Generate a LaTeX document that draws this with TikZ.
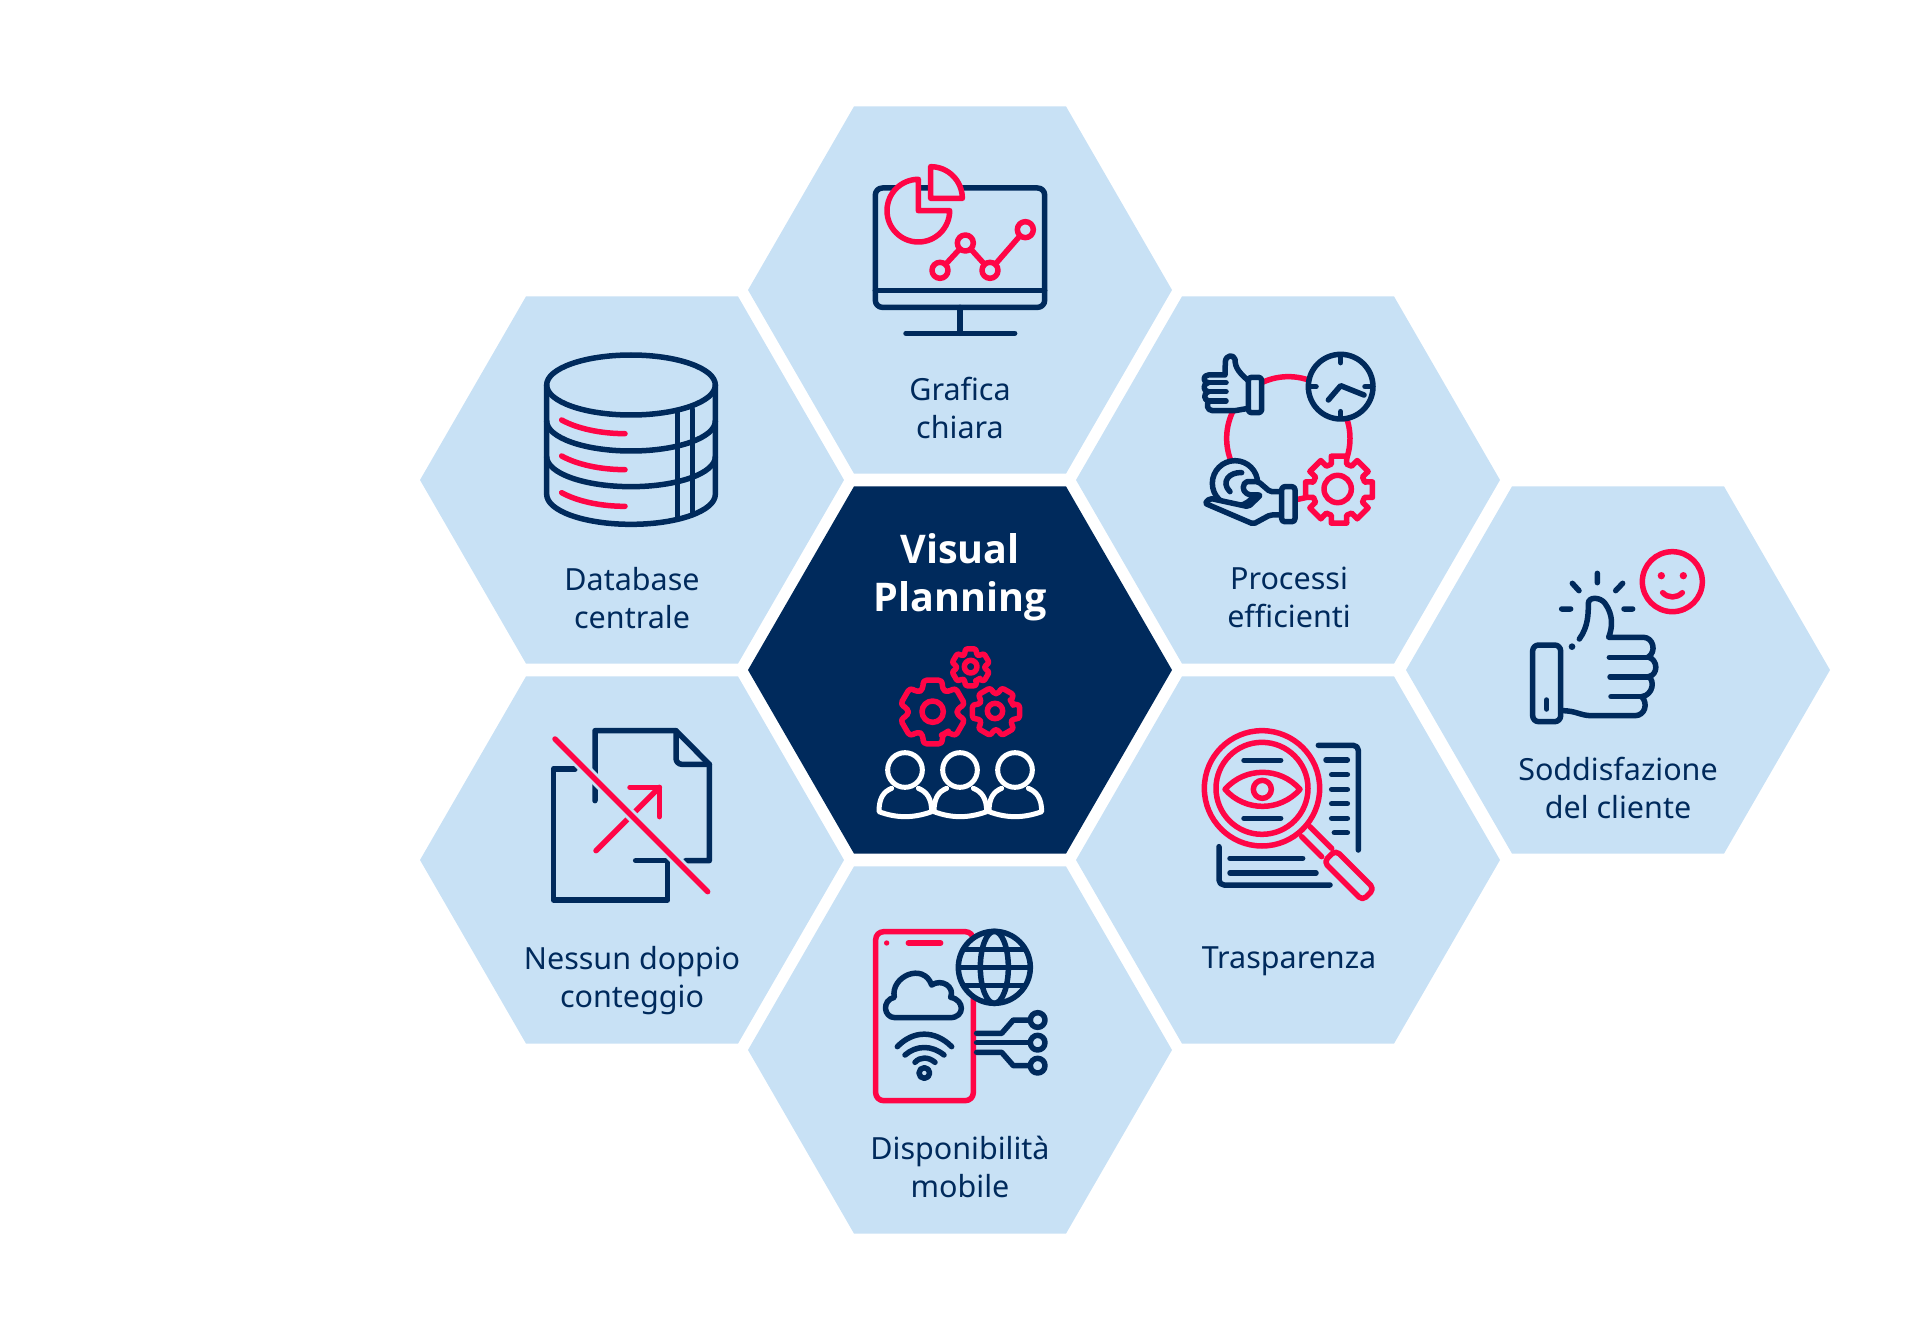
\documentclass[tikz,border=0pt]{standalone}
\usepackage{xcolor}
\usepackage{fontspec}
\setmainfont{Noto Sans}
\newfontfamily\titlefont{Open Sans}
\usepackage{tikz}
\usetikzlibrary{shapes.geometric}
\definecolor{hexcolor}{RGB}{200,225,245}
\definecolor{navycolor}{RGB}{0,42,92}
\definecolor{redcolor}{RGB}{255,5,70}

% cogwheel: x, y, teeth, tip radius, root radius, rotation, style
\newcommand{\cogwheel}[7]{%
  \begin{scope}[shift={(#1,#2)}]
    \pgfmathsetmacro{\cogtip}{0.29*360/#3}
    \pgfmathsetmacro{\cogroot}{0.37*360/#3}
    \draw[#7] ({#6-180/#3}:#5)
      \foreach \cogi [evaluate=\cogi as \coga using {#6+(\cogi-1)*360/#3}] in {1,...,#3}
        { -- ({\coga-\cogroot}:#5) -- ({\coga-\cogtip}:#4) -- ({\coga+\cogtip}:#4) -- ({\coga+\cogroot}:#5) }
      -- cycle;
  \end{scope}}

\begin{document}
\begin{tikzpicture}[
    x=1pt, y=-1pt,
    hexcell/.style={regular polygon, regular polygon sides=6, minimum size=424pt, inner sep=0pt, outer sep=0pt, fill=hexcolor},
    hexlabel/.style={anchor=north, align=center, text=navycolor, inner sep=0pt, font=\fontsize{30.5}{38}\selectfont},
    hextitle/.style={anchor=north, align=center, text=white, inner sep=0pt, font=\titlefont\fontsize{39.5}{48}\selectfont\bfseries},
    iconscale/.style={x=0.33333pt, y=-0.33333pt},
    navyline/.style={draw=navycolor, line width=5.5pt, line cap=round, line join=round},
    redline/.style={draw=redcolor, line width=5.5pt, line cap=round, line join=round},
    whiteline/.style={draw=white, line width=5pt, line cap=round, line join=round}
]
    \useasboundingbox (0,0) rectangle (1920,1340);

    % Hexagons
    \node[hexcell] (grafica) at (960,290) {};
    \node[hexcell] (database) at (632,480) {};
    \node[hexcell] (processi) at (1288,480) {};
    \node[hexcell, fill=navycolor] (visual) at (960,670) {};
    \node[hexcell] (cliente) at (1618,670) {};
    \node[hexcell] (doppio) at (632,860) {};
    \node[hexcell] (trasparenza) at (1288,860) {};
    \node[hexcell] (mobile) at (960,1050) {};

    % Labels
    \node[hexlabel] (lgrafica) at (960,377) {Grafica\\chiara};
    \node[hexlabel] (ldatabase) at (632,567) {Database\\centrale};
    \node[hexlabel] (lprocessi) at (1289,567) {Processi\\efficienti};
    \node[hextitle] (lvisual) at (960,533) {Visual\\Planning};
    \node[hexlabel] (lcliente) at (1618,757) {Soddisfazione\\del cliente};
    \node[hexlabel] (ldoppio) at (632,946) {Nessun doppio\\conteggio};
    \node[hexlabel] (ltrasparenza) at (1289,947) {Trasparenza};
    \node[hexlabel] (lmobile) at (960,1136) {Disponibilit\`a\\mobile};

    % Monitor icon
    \begin{scope}[shift={(740,90)}, iconscale]
        \draw[navyline, rounded corners=7pt] (406,294) rectangle (914,652);
        \draw[navyline] (406,601) -- (914,601);
        \draw[navyline] (660,652) -- (660,730);
        \draw[navyline] (498,730) -- (824,730);
        \draw[redline, fill=hexcolor] (535,268) arc[start angle=270, end angle=0, radius=94] -- (535,362) -- cycle;
        \draw[redline, fill=hexcolor] (572,230) arc[start angle=270, end angle=360, radius=95] -- (572,325) -- cycle;
        \draw[redline] (600,541) -- (676,459) -- (750,541) -- (856,419);
        \foreach \cx/\cy in {600/541, 676/459, 750/541, 856/419}
            \draw[redline, fill=hexcolor] (\cx,\cy) circle[radius=24];
    \end{scope}

    % Process icon
    \begin{scope}[shift={(1190,340)}, iconscale]
        \draw[redline] (295,295) circle[radius=185];
        % thumb
        \draw[navyline, fill=hexcolor] (175,122) .. controls (150,100) and (135,85) .. (135,58) .. controls (130,42) and (108,45) .. (106,65) -- (105,105) -- (55,105) .. controls (38,105) and (38,128) .. (55,128) .. controls (38,130) and (38,155) .. (55,155) .. controls (40,158) and (40,183) .. (58,183) .. controls (48,190) and (50,212) .. (68,212) -- (135,212) -- (175,205);
        \draw[navyline] (55,128) -- (108,128) (55,155) -- (108,155) (58,183) -- (108,183);
        \draw[navyline, fill=hexcolor, rounded corners=3pt] (175,112) rectangle (215,218);
        % clock
        \draw[navyline, fill=hexcolor] (452,140) circle[radius=97];
        \draw[navyline] (452,50) -- (452,68) (452,215) -- (452,233) (360,140) -- (378,140) (525,140) -- (545,140);
        \draw[navyline] (415,180) -- (452,137) -- (522,165);
        % gear
        \cogwheel{447}{449}{8}{103}{80}{0}{redline, fill=hexcolor}
        \draw[redline] (443,447) circle[radius=41];
        % coin and hand
        \draw[navyline, fill=hexcolor] (135,430) circle[radius=68];
        \draw[navyline] (155,398) .. controls (120,395) and (90,425) .. (120,455);
        \draw[navyline, fill=hexcolor, rounded corners=2pt] (275,525) -- (240,525) -- (190,552) -- (45,490) -- (60,475) -- (175,500) -- (212,465) -- (175,465) -- (158,448) -- (165,425) -- (205,425) -- (240,455) -- (275,455);
        \draw[navyline, fill=hexcolor, rounded corners=3pt] (275,440) rectangle (315,545);
    \end{scope}

    % Database icon
    \begin{scope}[shift={(530,340)}, iconscale]
        \draw[navyline] (303,135) ellipse[x radius=253, y radius=90];
        \draw[navyline] (50,135) -- (50,463) arc[start angle=180, end angle=0, x radius=253, y radius=90] -- (556,135);
        \draw[navyline] (50,243) arc[start angle=180, end angle=0, x radius=253, y radius=90];
        \draw[navyline] (50,350) arc[start angle=180, end angle=0, x radius=253, y radius=90];
        \draw[navyline] (443,218) -- (443,538) (488,208) -- (488,524);
        \foreach \dy in {0,108,218}
            \draw[redline] (95,{240+\dy}) .. controls (140,{265+\dy}) and (210,{281+\dy}) .. (285,{281+\dy});
    \end{scope}

    % Team icon
    \begin{scope}[shift={(860,520)}, iconscale]
        \cogwheel{218}{576}{6}{100}{74}{90}{redline, rounded corners=4pt}
        \draw[redline] (218,575) circle[radius=32];
        \cogwheel{332}{442}{6}{58}{43}{90}{redline, rounded corners=2.5pt}
        \draw[redline] (332,440) circle[radius=19];
        \cogwheel{408}{575}{6}{74}{55}{0}{redline, rounded corners=3pt}
        \draw[redline] (405,573) circle[radius=23];
        \foreach \dx in {0,165,330} {
            \draw[whiteline, fill=navycolor] ({95+\dx},805) .. controls ({70+\dx},815) and ({57+\dx},835) .. ({57+\dx},875) .. controls ({110+\dx},895) and ({160+\dx},895) .. ({215+\dx},875) .. controls ({215+\dx},835) and ({200+\dx},815) .. ({175+\dx},805);
            \draw[whiteline, fill=navycolor] ({135+\dx},750) circle[radius=52];
        }
    \end{scope}

    % Thumb icon
    \begin{scope}[shift={(1520,540)}, iconscale]
        \draw[redline] (457,125) circle[radius=90];
        \fill[redcolor] (424,107) circle[radius=11] (490,107) circle[radius=11];
        \draw[redline] (428,158) .. controls (445,175) and (470,175) .. (487,158);
        \draw[navyline] (232,100) -- (232,128) (157,130) -- (177,152) (308,130) -- (287,152) (125,207) -- (152,207) (312,207) -- (338,207);
        \fill[navycolor] (156,320) circle[radius=10];
        \draw[navyline, rounded corners=6pt] (38,315) rectangle (122,545);
        \draw[navyline] (80,480) -- (80,507);
        \draw[navyline] (178,297) .. controls (205,260) and (205,220) .. (205,190) .. controls (205,170) and (240,170) .. (255,190) .. controls (280,225) and (278,260) .. (266,292) -- (370,292) .. controls (400,292) and (410,335) .. (385,351) .. controls (415,360) and (415,405) .. (385,410) .. controls (405,420) and (400,465) .. (365,470) .. controls (385,490) and (375,527) .. (345,527) -- (215,527) .. controls (180,527) and (170,512) .. (125,512);
        \draw[navyline] (268,352) -- (385,352) (270,411) -- (385,411) (273,470) -- (365,470);
    \end{scope}

    % Magnifier icon
    \begin{scope}[shift={(1190,720)}, iconscale]
        \draw[navyline, rounded corners=5pt] (385,76) -- (505,76) -- (505,390);
        \draw[navyline, rounded corners=5pt] (87,380) -- (87,495) -- (420,495);
        \draw[navyline] (408,120) -- (472,120) (425,164) -- (472,164) (425,208) -- (472,208) (425,251) -- (472,251) (425,295) -- (472,295) (433,338) -- (472,338);
        \draw[navyline] (120,415) -- (338,415) (120,459) -- (378,459);
        \draw[navyline] (162,121) -- (272,121) (162,295) -- (272,295);
        \draw[redline] (216,205) circle[radius=173];
        \draw[redline] (216,205) circle[radius=138];
        \draw[redline] (105,208) .. controls (165,140) and (270,140) .. (330,208) .. controls (270,276) and (165,276) .. (105,208) -- cycle;
        \draw[redline] (217,208) circle[radius=27];
        \draw[redline] (335,350) -- (395,410) (360,320) -- (425,385);
        \begin{scope}[shift={(477,466)}, rotate=-45]
            \draw[redline, fill=hexcolor, rounded corners=5pt] (-82,-25) rectangle (82,25);
        \end{scope}
    \end{scope}

    % Phone icon
    \begin{scope}[shift={(860,920)}, iconscale]
        \draw[redline, rounded corners=8pt] (47,35) rectangle (340,542);
        \fill[redcolor] (80,69) circle[radius=8];
        \draw[redline] (145,69) -- (242,69);
        \draw[navyline, fill=hexcolor] (403,142) circle[radius=108];
        \draw[navyline] (403,142) ellipse[x radius=42, y radius=108];
        \draw[navyline] (300,142) -- (510,142) (312,88) -- (494,88) (312,196) -- (494,196);
        \draw[navyline, fill=hexcolor] (105,293) .. controls (70,293) and (65,240) .. (103,232) .. controls (90,170) and (190,125) .. (215,195) .. controls (245,175) and (285,200) .. (272,232) .. controls (315,240) and (315,293) .. (270,293) -- cycle;
        \draw[navyline] (112,380) .. controls (160,330) and (225,330) .. (275,380);
        \draw[navyline] (135,405) .. controls (170,375) and (215,375) .. (252,405);
        \draw[navyline] (165,427) .. controls (180,410) and (205,410) .. (225,427);
        \draw[navyline] (193,459) circle[radius=16];
        \draw[navyline] (350,340) -- (425,340) -- (460,300) -- (510,300);
        \draw[navyline] (350,368) -- (510,368);
        \draw[navyline] (350,397) -- (425,397) -- (460,437) -- (510,437);
        \foreach \cy in {300,368,437}
            \draw[navyline, fill=hexcolor] (533,\cy) circle[radius=22];
    \end{scope}

    % Document icon
    \begin{scope}[shift={(540,720)}, iconscale]
        \draw[navyline] (165,242) -- (165,32) -- (408,32) -- (508,133) -- (508,422) -- (437,422);
        \draw[navyline, rounded corners=6pt] (408,32) -- (408,133) -- (508,133);
        \draw[navyline] (105,147) -- (40,147) -- (40,540) -- (383,540) -- (383,422) -- (287,422);
        \draw[redline] (168,392) -- (358,202);
        \draw[redline] (270,202) -- (358,202) -- (358,290);
        \draw[draw=hexcolor, line width=11pt] (75,87) -- (470,482);
        \draw[redline] (45,57) -- (503,515);
    \end{scope}
\end{tikzpicture}
\end{document}
